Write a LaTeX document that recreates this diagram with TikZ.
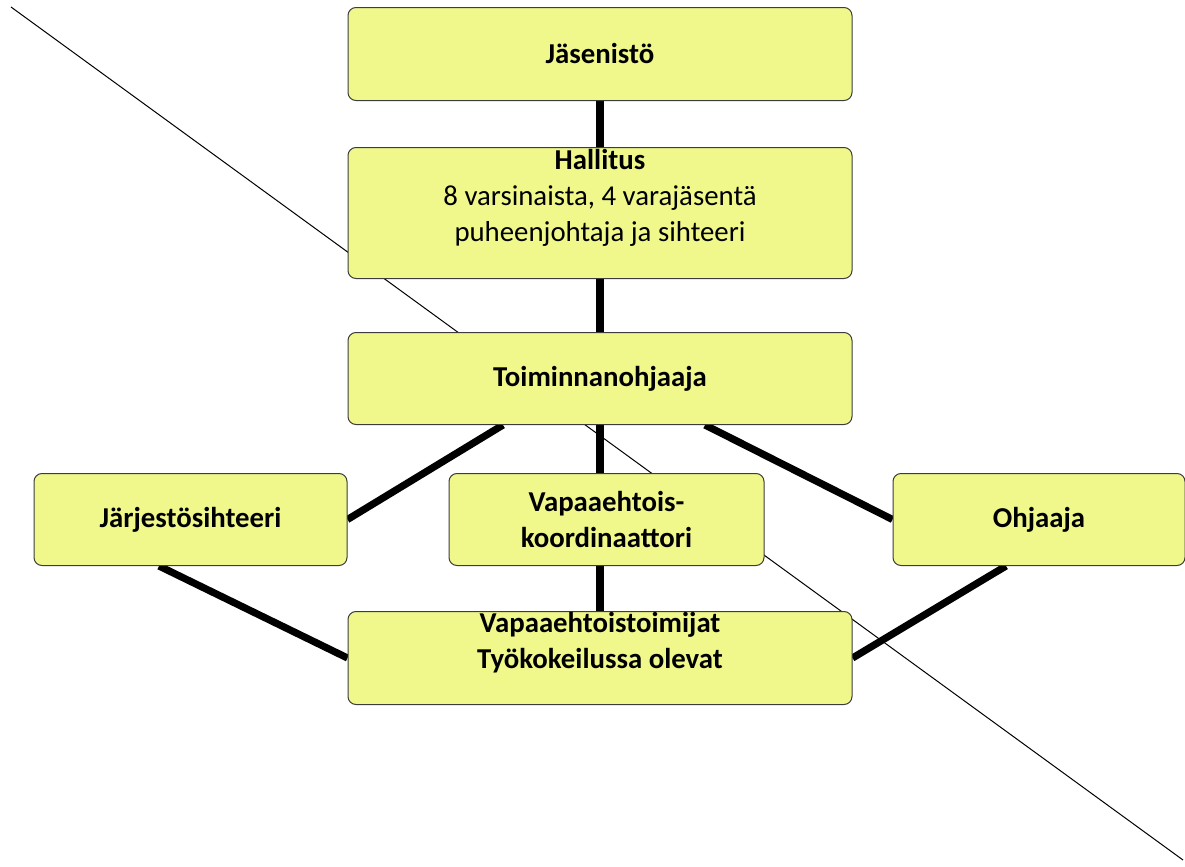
\documentclass[tikz,border=0pt]{standalone}
\usepackage{fontspec}
\setmainfont{Carlito}
\usetikzlibrary{positioning,backgrounds}

\definecolor{boxfill}{RGB}{240,248,140}
\definecolor{boxline}{RGB}{60,60,60}

\tikzset{
  orgbox/.style={draw=boxline, line width=0.5pt, fill=boxfill, rounded corners=4pt,
                 minimum width=252pt, minimum height=46pt, inner sep=0pt, align=center,
                 font=\fontsize{14.4pt}{18pt}\selectfont\bfseries},
  small/.style={orgbox, minimum width=157pt},
  link/.style={line width=3.6pt, line cap=butt},
  cut/.style={line width=0.5pt}
}

\begin{document}
\begin{tikzpicture}[x=0.5pt, y=-0.5pt, node distance=23pt]
  \useasboundingbox (0,0) rectangle (1185,867);

  \node[orgbox, minimum height=46.5pt] (jas) at (600,54) {J\"asenist\"o};
  \node[orgbox, minimum height=65.5pt] (hal) [below=of jas]
       {Hallitus\\ \mdseries 8 varsinaista, 4 varaj\"asent\"a\\ \mdseries puheenjohtaja ja sihteeri\\ \mbox{}};
  \node[orgbox]                        (toim) [below=26.5pt of hal] {Toiminnanohjaaja};
  \node[small, minimum width=156.5pt]  (jar) [below left=24pt and 0pt of toim.south west] {J\"arjest\"osihteeri};
  \node[small, minimum width=157.5pt]  (vap) [below=24pt of toim, xshift=3.25pt] {Vapaaehtois-\\koordinaattori};
  \node[small, minimum width=146pt]    (ohj) [below right=24pt and 20pt of toim.south east] {Ohjaaja};
  \node[orgbox, minimum height=46.5pt] (bot) [below=93pt of toim]
       {Vapaaehtoistoimijat\\ Ty\"okokeilussa olevat\\ \mbox{}};

  \coordinate (d1) at (11,7);
  \coordinate (d2) at (1183,860);

  \begin{scope}[on background layer]
    \draw[cut] (d1) -- (d2);
    \draw[link] (jas.south) -- (hal.north);
    \draw[link] (hal.south) -- (toim.north);
    \draw[link] (toim.south) -- (toim.south |- vap.north);
    \draw[link] (toim.south |- vap.south) -- (bot.north);
    \draw[link] ([xshift=-48.5pt]toim.south) -- (jar.east);
    \draw[link] ([xshift=52.5pt]toim.south) -- (ohj.west);
    \draw[link] ([xshift=-15.75pt]jar.south) -- (bot.west);
    \draw[link] ([xshift=-16.5pt]ohj.south) -- (bot.east);
  \end{scope}
\end{tikzpicture}
\end{document}
